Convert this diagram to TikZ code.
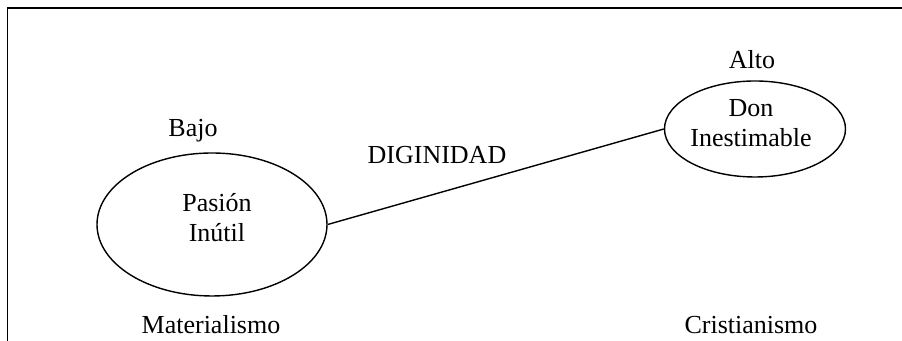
\documentclass[tikz,border=0pt]{standalone}
\usepackage{fontspec}
\setmainfont{Liberation Serif}
\usepackage{tikz}
\usetikzlibrary{shapes.geometric}
\tikzset{
elipse/.style={ellipse,draw,line width=0.7pt,inner sep=0pt},
texto/.style={align=center,inner sep=1pt},
linea/.style={line width=0.7pt}}

\begin{document}
\begin{tikzpicture}[x=0.5pt,y=0.5pt,font=\fontsize{13}{15}\selectfont]

\useasboundingbox (0,0) rectangle (902,341);
\coordinate (marco1) at (7.5,0);
\coordinate (marco2) at (902,333);
\draw[linea] (marco1) |- (marco2);

\node[elipse,minimum width=115pt,minimum height=71.5pt] (pasion) at (212,116.5) {};
\node[elipse,minimum width=90.5pt,minimum height=48pt] (don) at (755,212) {};
\node[texto] (pasiontxt) at (217,123.5) {Pasión\\Inútil};
\node[texto] (dontxt) at (751,218) {Don\\Inestimable};

\node[texto] (bajo) at (193,210) {Bajo};
\node[texto] (alto) at (752,281) {Alto};
\node[texto] (dignidad) at (437,186) {DIGINIDAD};
\node[texto] (materialismo) at (211,16) {Materialismo};
\node[texto] (cristianismo) at (751,16) {Cristianismo};

\path[linea] (pasion.east) edge (don.west);

\end{tikzpicture}
\end{document}
